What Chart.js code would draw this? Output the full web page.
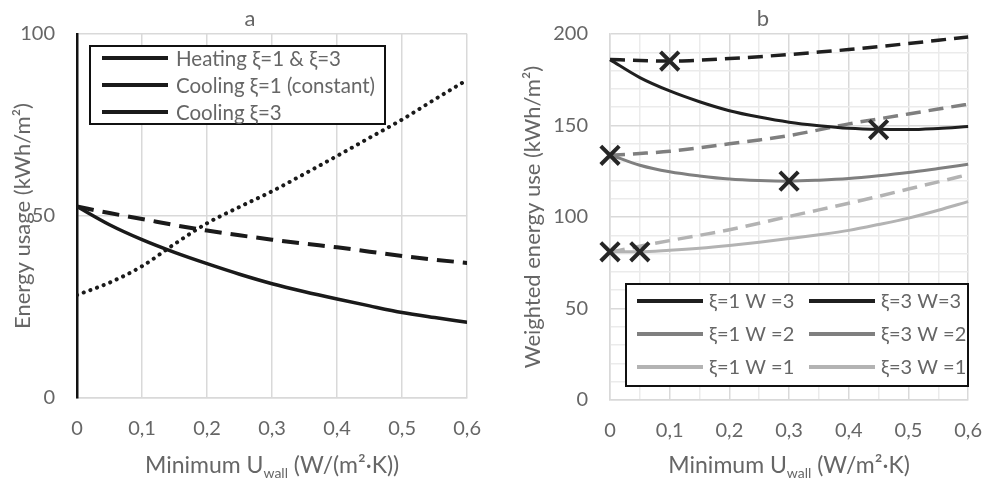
<!DOCTYPE html>
<html>
<head>
<meta charset="utf-8">
<script src="https://cdn.jsdelivr.net/npm/chart.js@4.4.1/dist/chart.umd.min.js"></script>
<style>
  body { margin: 0; background: #fff; }
  #wrap { position: relative; width: 1001px; height: 479px; }
  #chart-a { position: absolute; left: 0; top: 0; }
  #chart-b { position: absolute; left: 500px; top: 0; }
</style>
</head>
<body>
<div id="wrap">
  <canvas id="chart-a" width="500" height="479"></canvas>
  <canvas id="chart-b" width="501" height="479"></canvas>
</div>
<script>
// x values (minimum U_wall, W/(m2 K)) shared by all curves
const uWall = [0, 0.05, 0.1, 0.15, 0.2, 0.25, 0.3, 0.35, 0.4, 0.45, 0.5, 0.55, 0.6];

// panel a: energy usage (kWh/m2)
const heating = [52.6, 47.6, 43.5, 40.0, 36.9, 34.0, 31.4, 29.2, 27.2, 25.3, 23.5, 22.1, 20.8];
const coolingXi1 = [52.6, 50.8, 49.2, 47.5, 46.0, 44.7, 43.5, 42.4, 41.4, 40.2, 39.0, 38.0, 37.1];
const coolingXi3 = [28.3, 31.7, 36.2, 42.3, 48.0, 52.5, 56.8, 61.6, 66.5, 71.5, 76.5, 82.0, 87.4];

// panel b: weighted energy use (kWh/m2)
const xi1W3 = [186.1, 185.5, 185.2, 185.7, 186.6, 187.6, 188.8, 190.1, 191.5, 193.1, 194.8, 196.6, 198.4];
const xi3W3 = [186.0, 176.2, 168.9, 163.0, 158.1, 154.6, 151.8, 149.9, 148.5, 147.9, 147.8, 148.4, 149.4];
const xi1W2 = [133.7, 134.7, 135.9, 137.8, 140.0, 142.1, 144.5, 147.6, 150.9, 153.6, 156.3, 159.0, 161.7];
const xi3W2 = [134.0, 128.3, 124.7, 122.4, 120.7, 119.9, 119.6, 120.1, 121.0, 122.5, 124.3, 126.5, 128.8];
const xi1W1 = [80.8, 84.0, 87.1, 90.0, 93.0, 96.6, 100.3, 103.9, 107.5, 111.3, 115.3, 119.2, 123.2];
const xi3W1 = [81.0, 81.0, 81.8, 82.9, 84.4, 86.2, 88.2, 90.3, 92.7, 95.9, 99.4, 103.7, 108.4];

// optimum markers in panel b
const optX = [0.1, 0.45, 0, 0.3, 0, 0.05];
const optY = [185.2, 147.8, 133.7, 119.6, 81, 81];

const TEXT = '#666666';
const FONT = 'Lato, "DejaVu Sans", sans-serif';
Chart.defaults.font.family = FONT;
Chart.defaults.color = TEXT;

function pts(ys) {
  return ys.map((y, i) => ({ x: uWall[i], y: y }));
}

function fmtU(v) {
  if (Math.abs(v) < 1e-9) return '0';
  return v.toFixed(1).replace('.', ',');
}

function isMult(v, step) {
  const r = v / step;
  return Math.abs(r - Math.round(r)) < 1e-6;
}

// legend box drawn inside the plot area, with solid sample lines
const boxLegend = {
  id: 'boxLegend',
  afterDatasetsDraw(chart, args, o) {
    const { ctx, chartArea } = chart;
    const x0 = chartArea.left + o.left;
    const y0 = chartArea.top + o.top;
    ctx.save();
    ctx.fillStyle = '#fff';
    ctx.fillRect(x0, y0, o.width, o.height);
    ctx.strokeStyle = '#111';
    ctx.lineWidth = 2;
    ctx.strokeRect(x0, y0, o.width, o.height);
    const items = chart.data.datasets.filter(d => d.label);
    ctx.font = o.fontSize + 'px ' + FONT;
    ctx.textBaseline = 'middle';
    ctx.textAlign = 'left';
    items.forEach((d, i) => {
      const col = i % o.cols;
      const row = Math.floor(i / o.cols);
      const lx = x0 + o.padX + col * o.colWidth;
      const ly = y0 + o.padY + row * o.rowHeight;
      ctx.strokeStyle = d.borderColor;
      ctx.lineWidth = o.lineWidth;
      ctx.setLineDash([]);
      ctx.beginPath();
      ctx.moveTo(lx, ly);
      ctx.lineTo(lx + o.lineLen, ly);
      ctx.stroke();
      ctx.fillStyle = TEXT;
      ctx.fillText(d.label, lx + o.lineLen + o.gap, ly + 1);
    });
    ctx.restore();
  }
};

// panel letter and axis titles (x title has a subscript)
const panelText = {
  id: 'panelText',
  afterDraw(chart, args, o) {
    const { ctx, chartArea } = chart;
    ctx.save();
    ctx.fillStyle = TEXT;
    ctx.textBaseline = 'alphabetic';
    ctx.font = o.letterSize + 'px ' + FONT;
    ctx.textAlign = 'center';
    ctx.fillText(o.letter, o.letterX, o.letterY);

    // y title
    ctx.save();
    ctx.translate(o.yTitleX, (chartArea.top + chartArea.bottom) / 2);
    ctx.rotate(-Math.PI / 2);
    ctx.font = o.yTitleSize + 'px ' + FONT;
    ctx.textBaseline = 'middle';
    ctx.fillText(o.yTitle, 0, 0);
    ctx.restore();

    // x title
    const big = o.xTitleSize + 'px ' + FONT;
    const small = o.subSize + 'px ' + FONT;
    ctx.font = big;
    const w1 = ctx.measureText(o.xPre).width;
    const w3 = ctx.measureText(o.xPost).width;
    ctx.font = small;
    const w2 = ctx.measureText(o.xSub).width;
    let x = (chartArea.left + chartArea.right) / 2 - (w1 + w2 + w3) / 2;
    ctx.textAlign = 'left';
    ctx.font = big;
    ctx.fillText(o.xPre, x, o.xTitleY);
    x += w1;
    ctx.font = small;
    ctx.fillText(o.xSub, x, o.xTitleY + 5);
    x += w2;
    ctx.font = big;
    ctx.fillText(o.xPost, x, o.xTitleY);
    ctx.restore();
  }
};

const chartA = new Chart(document.getElementById('chart-a'), {
  type: 'line',
  data: {
    datasets: [
      { label: 'Heating ξ=1 & ξ=3', data: pts(heating), borderColor: '#1a1a1a', borderWidth: 3.5 },
      { label: 'Cooling ξ=1 (constant)', data: pts(coolingXi1), borderColor: '#1a1a1a', borderWidth: 4, borderDash: [17, 9] },
      { label: 'Cooling ξ=3', data: pts(coolingXi3), borderColor: '#1a1a1a', borderWidth: 4, borderDash: [0.1, 7], borderCapStyle: 'round' }
    ]
  },
  options: {
    responsive: false,
    animation: false,
    layout: { padding: { top: 31, right: 27, left: 0, bottom: 0 } },
    elements: { point: { radius: 0 }, line: { cubicInterpolationMode: 'monotone' } },
    plugins: {
      legend: { display: false },
      tooltip: { enabled: false },
      boxLegend: { left: 13, top: 12, width: 295, height: 78, cols: 1, colWidth: 0, rowHeight: 27,
                   padX: 12, padY: 12, lineLen: 66, gap: 8, lineWidth: 4, fontSize: 20.5 },
      panelText: { letter: 'a', letterX: 250, letterY: 26, letterSize: 22,
                   yTitle: 'Energy usage (kWh/m²)', yTitleX: 23, yTitleSize: 22, xTitleSize: 23, subSize: 14,
                   xPre: 'Minimum U', xSub: 'wall', xPost: ' (W/(m²·K))', xTitleY: 473 }
    },
    scales: {
      x: {
        type: 'linear', min: 0, max: 0.6,
        afterFit: s => { s.height = 81; },
        grid: { color: '#d9d9d9', lineWidth: 1.5, drawTicks: false },
        border: { color: '#d9d9d9', width: 1.5 },
        ticks: { stepSize: 0.1, padding: 19, font: { size: 20 }, callback: v => fmtU(v) }
      },
      y: {
        min: 0, max: 100,
        afterFit: s => { s.width = 77; },
        grid: { color: '#d9d9d9', lineWidth: 1.5, drawTicks: false },
        border: { color: '#111', width: 2.5 },
        ticks: { stepSize: 50, padding: 22, font: { size: 20 } }
      }
    }
  },
  plugins: [boxLegend, panelText]
});

const DARK = '#1f1f1f', MID = '#7f7f7f', LIGHT = '#b3b3b3';
const dashB = [15, 8];

const chartB = new Chart(document.getElementById('chart-b'), {
  type: 'line',
  data: {
    datasets: [
      { label: 'ξ=1 W =3', data: pts(xi1W3), borderColor: DARK, borderWidth: 3.5, borderDash: dashB, order: 1 },
      { label: 'ξ=3 W=3', data: pts(xi3W3), borderColor: DARK, borderWidth: 3, order: 1 },
      { label: 'ξ=1 W =2', data: pts(xi1W2), borderColor: MID, borderWidth: 3.5, borderDash: dashB, order: 1 },
      { label: 'ξ=3 W =2', data: pts(xi3W2), borderColor: MID, borderWidth: 3, order: 1 },
      { label: 'ξ=1 W =1', data: pts(xi1W1), borderColor: LIGHT, borderWidth: 3.5, borderDash: dashB, order: 1 },
      { label: 'ξ=3 W =1', data: pts(xi3W1), borderColor: LIGHT, borderWidth: 3, order: 1 },
      { data: optX.map((x, i) => ({ x: x, y: optY[i] })), showLine: false, order: 0, clip: false,
        pointStyle: 'crossRot', pointRadius: 13, pointBorderWidth: 4, pointBorderColor: '#262626' }
    ]
  },
  options: {
    responsive: false,
    animation: false,
    clip: false,
    layout: { padding: { top: 31, right: 16, left: 0, bottom: 0 } },
    elements: { point: { radius: 0 }, line: { cubicInterpolationMode: 'monotone' } },
    plugins: {
      legend: { display: false },
      tooltip: { enabled: false },
      boxLegend: { left: 16, top: 250, width: 342, height: 102, cols: 2, colWidth: 172, rowHeight: 33,
                   padX: 11, padY: 17, lineLen: 66, gap: 6, lineWidth: 4, fontSize: 20 },
      panelText: { letter: 'b', letterX: 263, letterY: 26, letterSize: 22,
                   yTitle: 'Weighted energy use (kWh/m²)', yTitleX: 33, yTitleSize: 22, xTitleSize: 23, subSize: 14,
                   xPre: 'Minimum U', xSub: 'wall', xPost: ' (W/m²·K)', xTitleY: 473 }
    },
    scales: {
      x: {
        type: 'linear', min: 0, max: 0.6,
        afterFit: s => { s.height = 79; },
        grid: { color: c => isMult(c.tick.value, 0.1) ? '#d9d9d9' : '#ebebeb', lineWidth: 1.5, drawTicks: false },
        border: { color: '#d9d9d9', width: 1.5 },
        ticks: { stepSize: 0.05, padding: 19, autoSkip: false, maxRotation: 0, font: { size: 20 },
                 callback: v => isMult(v, 0.1) ? fmtU(v) : '' }
      },
      y: {
        min: 0, max: 200,
        afterFit: s => { s.width = 110; },
        grid: { color: c => isMult(c.tick.value, 50) ? '#d9d9d9' : '#ebebeb', lineWidth: 1.5, drawTicks: false },
        border: { color: '#d9d9d9', width: 1.5 },
        ticks: { stepSize: 10, padding: 22, autoSkip: false, font: { size: 20 },
                 callback: v => isMult(v, 50) ? String(v) : '' }
      }
    }
  },
  plugins: [boxLegend, panelText]
});
</script>
</body>
</html>
